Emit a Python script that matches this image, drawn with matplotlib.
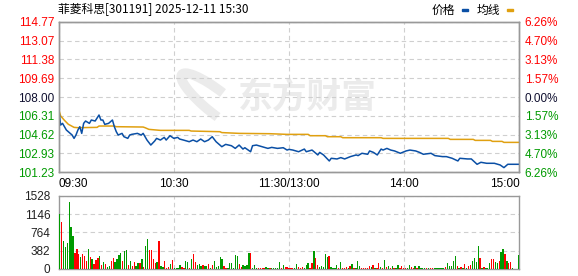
import numpy as np
import matplotlib.pyplot as plt
from matplotlib.patches import Rectangle, Arc

# ---- data ----
title = "菲菱科思[301191] 2025-12-11 15:30"
prev_close = 108.00

price_ticks = [114.77, 113.07, 111.38, 109.69, 108.00, 106.31, 104.62, 102.93, 101.23]
pct_labels = ["6.26%", "4.70%", "3.13%", "1.57%", "0.00%", "1.57%", "3.13%", "4.70%", "6.26%"]
time_ticks = [0, 60, 120, 180, 240]
time_labels = ["09:30", "10:30", "11:30/13:00", "14:00", "15:00"]
vol_ticks = [0, 382, 764, 1146, 1528]

# price line (minute index from 09:30, price)
price_min = [0, 1, 2, 3, 4, 6, 7, 8, 9, 10,
             11, 12, 13, 14, 16, 17, 19, 21, 22, 23,
             24, 26, 28, 29, 30, 31, 33, 34, 36, 37,
             38, 41, 43, 44, 46, 48, 50, 51, 53, 55,
             56, 58, 60, 62, 63, 65, 68, 70, 72, 74,
             76, 78, 80, 82, 85, 87, 90, 92, 94, 96,
             97, 100, 101, 103, 106, 109, 111, 114, 117, 119,
             120,
             122, 125, 128, 129, 132, 135, 136, 138, 141, 142,
             145, 147, 149, 152, 155, 156, 158, 161, 162, 164,
             166, 168, 169, 171, 173, 175, 178, 181, 183, 186,
             188, 190, 194, 196, 200, 202, 205, 208, 209, 213,
             215, 218, 220, 223, 227, 230, 232, 234, 235, 240]
price = [106.98, 105.48, 105.63, 105.33, 105.03, 104.73, 104.58, 104.28, 104.58, 105.03,
         105.33, 104.73, 105.63, 105.84, 105.63, 105.93, 105.84, 106.38, 105.93, 105.93,
         105.54, 105.63, 105.93, 105.33, 104.88, 104.58, 104.73, 104.43, 104.28, 104.58,
         104.64, 104.73, 104.58, 104.73, 104.13, 103.68, 104.04, 104.28, 104.13, 104.37,
         104.13, 104.52, 104.28, 104.37, 104.22, 104.13, 103.98, 104.13, 103.98, 104.22,
         103.98, 104.13, 104.43, 103.98, 103.53, 103.74, 103.62, 103.38, 103.68, 103.32,
         103.44, 103.08, 103.62, 103.68, 103.53, 103.38, 103.47, 103.38, 103.44, 103.23,
         103.29,
         103.23, 103.08, 103.32, 103.08, 103.23, 102.79, 103.02, 102.79, 102.25, 102.49,
         102.43, 102.55, 102.43, 102.64, 102.79, 102.73, 102.94, 102.85, 103.15, 103.02,
         102.79, 103.32, 103.23, 103.38, 103.23, 103.15, 102.94, 103.15, 103.23, 103.15,
         103.02, 102.85, 102.94, 102.73, 102.64, 102.64, 102.49, 102.25, 102.49, 102.43,
         102.43, 101.95, 102.13, 102.04, 102.04, 101.89, 101.65, 101.95, 101.95, 101.95]

# average line
avg_min = [0, 1, 3, 5, 8, 10, 20, 21, 29, 30, 44, 45, 47, 53, 68, 69, 84, 85, 94, 110,
           119, 130, 131, 139, 140, 147, 148, 168, 169, 203, 204, 216, 217, 225, 226,
           231, 232, 240]
avg = [106.9, 106.3, 105.9, 105.55, 105.27, 105.24, 105.27, 105.39, 105.39, 105.33,
       105.30, 105.24, 105.09, 105.0, 105.0, 104.94, 104.88, 104.80, 104.73, 104.70,
       104.64, 104.64, 104.52, 104.52, 104.43, 104.43, 104.34, 104.34, 104.28, 104.28,
       104.19, 104.19, 104.10, 104.10, 104.01, 104.01, 103.92, 103.92]

# per-minute volume and direction (r = up, g = down)
volume = [1160, 973, 582, 459, 541, 1404, 870, 685, 336, 418,
          315, 253, 315, 274, 171, 418, 253, 212, 110, 192,
          233, 274, 89, 151, 110, 48, 69, 171, 233, 151,
          212, 295, 336, 171, 377, 397, 89, 171, 69, 151,
          69, 130, 130, 212, 48, 480, 623, 397, 397, 212,
          130, 151, 582, 69, 48, 171, 27, 48, 110, 192,
          27, 27, 27, 89, 48, 27, 171, 151, 27, 212,
          315, 151, 89, 110, 69, 89, 69, 69, 110, 27,
          89, 171, 48, 69, 253, 212, 69, 27, 27, 130,
          130, 27, 295, 274, 110, 48, 89, 69, 89, 336,
          336, 27, 89, 27, 27, 27, 27, 27, 48, 27,
          27, 27, 27, 27, 27, 151, 27, 89, 48,
          48, 27, 27, 27, 27, 110, 48, 27, 48, 27, 89, 130, 27,
          130, 377, 233, 89, 48, 69, 48, 315, 253, 274, 48, 27, 27, 89, 27, 151,
          27, 27, 48, 27, 69, 110, 27, 27,
          171, 69, 27, 27, 27, 27, 69, 48, 89, 27, 27,
          130, 48, 27, 192, 48, 69, 27, 69, 27, 27, 89, 27, 69,
          27, 27, 27, 89, 48, 27, 69, 27, 69, 27, 27,
          27, 27, 27, 27, 27, 27, 27, 27, 27, 27,
          27, 48, 130, 69, 69, 171, 274, 69, 27, 48,
          27, 110, 27, 69, 89, 171, 233, 151, 480, 233,
          27, 48, 27, 27, 130, 212, 212, 151, 130, 171,
          356, 418, 315, 171, 130, 151, 27, 0, 0, 295]
direction = ("grggggggrr" "rgrrrgrgrr" "rgrgrggrrg" "gggrggrgrr" "ggrgrggrrr" "rgrggrrrgr"
             "ggggrrggrg" "rrgggrggrg" "rgggggrrgg" "ggggrrgggg" "rgggrrrrgg" "rgggggrgr"
             "rrrrg" "grrrggg" "r" "rgrrgggggrggggrgrrrgrgr" "g" "ggrrrrrgrg" "r" "rgrgrgrgrggrr"
             "rr" "g" "grrgrggg" "grgrrggggg" "grgggggrgr" "grgrrggggr" "grgggrrggr" "ggrgrrgggg")

# ---- styling ----
RED = "#ff0000"
GREEN = "#009a00"
DARK = "#101030"
BLUE = "#0a4fa5"
ORANGE = "#e0a010"
GRID = "#cfcfcf"
SPINE = "#999999"

plt.rcParams["font.family"] = ["Liberation Sans", "DejaVu Sans"]
cjk = ["Noto Sans CJK SC", "DejaVu Sans"]

fig = plt.figure(figsize=(5.78, 2.76), dpi=100)
W, H = 578, 276
ax = fig.add_axes([58.7 / W, 1 - 172.3 / H, 460.6 / W, 150.6 / H])
axv = fig.add_axes([58.7 / W, 1 - 268.8 / H, 460.6 / W, 72.8 / H])

# watermark
ax.text(0.541, 0.5, "东方财富", transform=ax.transAxes, ha="center", va="center",
        fontsize=25, fontweight="bold", color="#ebebeb", family=cjk, zorder=0)
ax.add_patch(Arc((0.345, 0.46), 0.07, 0.42, angle=20, theta1=60, theta2=250,
                 transform=ax.transAxes, color="#ebebeb", lw=7, zorder=0))

# price panel
ax.plot(avg_min, avg, color=ORANGE, lw=1.1, zorder=3)
ax.plot(price_min, price, color=BLUE, lw=1.1, zorder=4)
ax.set_xlim(0, 240)
ax.set_ylim(price_ticks[-1], price_ticks[0])
ax.set_yticks(price_ticks)
ax.set_yticklabels([f"{p:.2f}" for p in price_ticks], fontsize=8.5)
for lab, p in zip(ax.get_yticklabels(), price_ticks):
    lab.set_color(RED if p > prev_close else (GREEN if p < prev_close else DARK))
ax.set_xticks(time_ticks)
ax.set_xticklabels(time_labels, fontsize=8.5)
xl = ax.get_xticklabels()
xl[0].set_horizontalalignment("left")
xl[-1].set_horizontalalignment("right")
ax.tick_params(axis="both", length=0)
ax.tick_params(axis="y", pad=3)
ax.tick_params(axis="x", pad=4)
ax.grid(True, ls=(0, (4, 3)), color=GRID, lw=0.8)

axr = ax.twinx()
axr.set_ylim(ax.get_ylim())
axr.set_yticks(price_ticks)
axr.set_yticklabels(pct_labels, fontsize=8.5)
for lab, p in zip(axr.get_yticklabels(), price_ticks):
    lab.set_color(RED if p > prev_close else (GREEN if p < prev_close else DARK))
axr.tick_params(axis="y", length=0, pad=4)

for a in (ax, axr, axv):
    for s in a.spines.values():
        s.set_color(SPINE)
        s.set_linewidth(1.0)

# volume panel
x = np.arange(len(volume))
cols = [RED if d == "r" else GREEN for d in direction]
axv.bar(x, volume, width=0.7, color=cols, linewidth=0, zorder=3, antialiased=False)
axv.set_xlim(-0.5, 240.5)
axv.set_ylim(0, vol_ticks[-1])
axv.set_yticks(vol_ticks)
axv.set_yticklabels([str(v) for v in vol_ticks], fontsize=8.5, color="#222222")
axv.get_yticklabels()[0].set_verticalalignment("center_baseline")
axv.set_xticks([60, 120, 180])
axv.set_xticklabels([])
axv.tick_params(axis="both", length=0)
axv.tick_params(axis="y", pad=6)
axv.grid(True, ls=(0, (4, 3)), color=GRID, lw=0.8)

# title and legend
fig.text(58 / W, 1 - 8.7 / H, title, fontsize=8.5, family=cjk, va="center", ha="left")
fig.text(443 / W, 1 - 10 / H, "价格", fontsize=8.5, family=cjk, va="center", ha="center")
fig.text(488 / W, 1 - 10 / H, "均线", fontsize=8.5, family=cjk, va="center", ha="center")
fig.patches.append(Rectangle((461.7 / W, 1 - 11.3 / H), 6 / W, 2.6 / H,
                             transform=fig.transFigure, color=BLUE, figure=fig))
fig.patches.append(Rectangle((507.3 / W, 1 - 11.3 / H), 6 / W, 2.6 / H,
                             transform=fig.transFigure, color=ORANGE, figure=fig))

fig.savefig("out.png", dpi=100, facecolor="white")
